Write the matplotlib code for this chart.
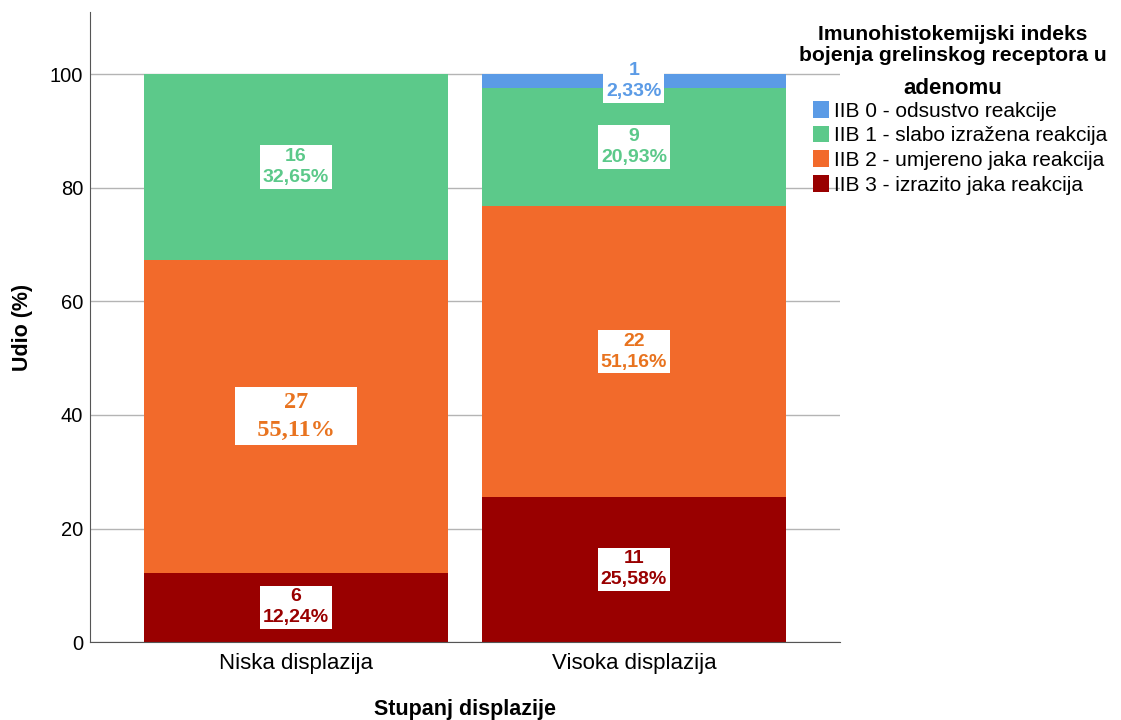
import numpy as np
import matplotlib
matplotlib.use("Agg")
import matplotlib.pyplot as plt
from matplotlib.patches import Patch

# data
groups = ["Niska displazija", "Visoka displazija"]
series = ["IIB 0 - odsustvo reakcije", "IIB 1 - slabo izražena reakcija",
          "IIB 2 - umjereno jaka reakcija", "IIB 3 - izrazito jaka reakcija"]
counts_niska = [0, 16, 27, 6]
counts_visoka = [1, 9, 22, 11]
pct_niska = [0.0, 32.65, 55.11, 12.24]
pct_visoka = [2.33, 20.93, 51.16, 25.58]

colors = ["#5b9be6", "#5cc98a", "#f26a2b", "#990000"]
label_colors = ["#5b9be6", "#5cc98a", "#e8731f", "#990000"]

plt.rcParams['font.family'] = ["Liberation Sans", "DejaVu Sans"]

fig = plt.figure(figsize=(11.21, 7.2), dpi=100)
ax = fig.add_axes([0.0803, 0.1083, 0.669, 0.875])

x = np.arange(len(groups))
pcts = np.array([pct_niska, pct_visoka])
counts = np.array([counts_niska, counts_visoka])

# stack from bottom: IIB 3, IIB 2, IIB 1, IIB 0
bottoms = np.zeros(len(groups))
for k in [3, 2, 1, 0]:
    vals = pcts[:, k]
    ax.bar(x, vals, width=0.9, bottom=bottoms, color=colors[k], zorder=2)
    for i in range(len(groups)):
        if counts[i, k] == 0:
            continue
        yc = bottoms[i] + vals[i] / 2
        pct_txt = f"{vals[i]:.2f}%".replace(".", ",")
        if i == 0 and k == 2:
            # this one label is drawn in a serif face in the original
            ax.text(x[i], yc, f"{counts[i, k]}\n   {pct_txt}   ", ha="center", va="center",
                    fontsize=17.5, fontweight="bold", family="Liberation Serif",
                    color=label_colors[k], linespacing=1.45, zorder=4,
                    bbox=dict(facecolor="white", edgecolor="none", pad=3))
        else:
            ax.text(x[i], yc, f"{counts[i, k]}\n{pct_txt}", ha="center", va="center",
                    fontsize=14, fontweight="bold", color=label_colors[k],
                    linespacing=1.3, zorder=4,
                    bbox=dict(facecolor="white", edgecolor="none", pad=2))
    bottoms = bottoms + vals

ax.set_xlim(-0.61, 1.61)
ax.set_ylim(0, 111)
ax.set_yticks([0, 20, 40, 60, 80, 100])
ax.set_xticks(x)
ax.set_xticklabels(groups, fontsize=16)
ax.tick_params(axis="y", length=0, labelsize=14.5, pad=5)
ax.tick_params(axis="x", length=0, pad=8)
ax.yaxis.grid(True, color="#b4b4b4", linewidth=1, zorder=0)
ax.set_axisbelow(True)
for s in ["top", "right"]:
    ax.spines[s].set_visible(False)
for s in ["left", "bottom"]:
    ax.spines[s].set_color("#555555")
ax.set_ylabel("Udio (%)", fontsize=15.5, fontweight="bold", labelpad=12)
ax.set_xlabel("Stupanj displazije", fontsize=15.5, fontweight="bold", labelpad=18)

# legend
fig.text(953 / 1121, 1 - 45 / 720, "Imunohistokemijski indeks\nbojenja grelinskog receptora u",
         ha="center", va="center", fontsize=15.2, fontweight="bold", linespacing=1.15)
fig.text(953 / 1121, 1 - 88 / 720, "adenomu", ha="center", va="center",
         fontsize=16, fontweight="bold")
handles = [Patch(facecolor=c, edgecolor="none") for c in colors]
fig.legend(handles, series, loc="upper left", bbox_to_anchor=(813 / 1121, 1 - 101 / 720),
           frameon=False, fontsize=15, handlelength=0.75, handleheight=0.85,
           handletextpad=0.25, labelspacing=0.25, borderpad=0, borderaxespad=0)

fig.savefig("out.png", dpi=100)
